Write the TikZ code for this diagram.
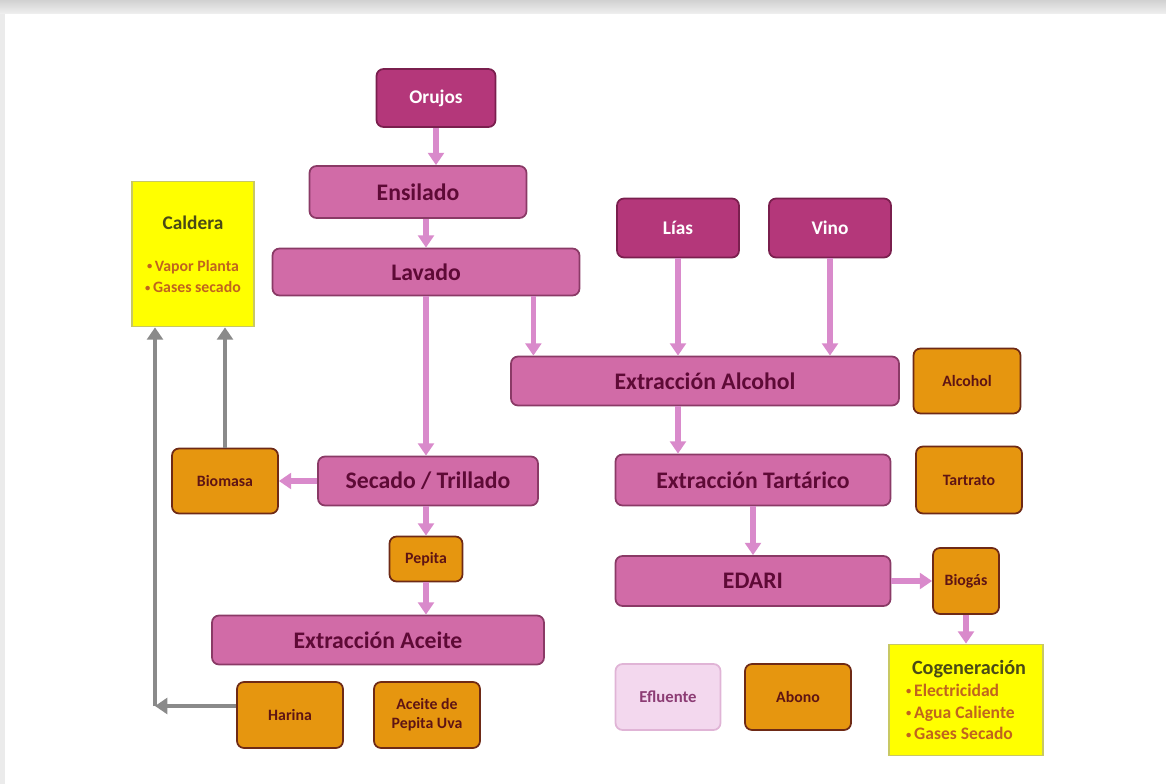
\documentclass[tikz,border=0pt]{standalone}
\usepackage{fontspec}
\setmainfont{Carlito}
\usetikzlibrary{arrows.meta,calc,positioning}

\definecolor{srcfill}{HTML}{B4377A}
\definecolor{srcline}{HTML}{7A1F4E}
\definecolor{procfill}{HTML}{D16BA7}
\definecolor{procline}{HTML}{8A3A66}
\definecolor{proctext}{HTML}{5E0A36}
\definecolor{prodfill}{HTML}{E6960F}
\definecolor{prodline}{HTML}{6E2A16}
\definecolor{prodtext}{HTML}{5E1414}
\definecolor{notefill}{HTML}{FFFF00}
\definecolor{noteline}{HTML}{C8C864}
\definecolor{notetitle}{HTML}{4A4A16}
\definecolor{notetext}{HTML}{C0641E}
\definecolor{efffill}{HTML}{F3D8EE}
\definecolor{effline}{HTML}{E0B4D6}
\definecolor{efftext}{HTML}{8C3C74}
\definecolor{flowcol}{HTML}{D98ACB}
\definecolor{backcol}{HTML}{8A8A8A}

% small bullet for the yellow notes
\newcommand{\bul}{{\fontsize{6}{6}\selectfont\raisebox{0.25ex}{•}}\,}

\begin{document}
\begin{tikzpicture}[%
    >={Triangle[width=9pt,length=7pt]},
    node distance=2cm,
    on grid,
    auto,
    box/.style={rounded corners=4pt, line width=1pt, inner sep=0pt},
    src/.style={box, draw=srcline, fill=srcfill, text=white,
      font=\bfseries\fontsize{11}{13}\selectfont},
    proc/.style={box, draw=procline, fill=procfill, text=proctext,
      font=\bfseries\fontsize{13.5}{16}\selectfont},
    prod/.style={box, draw=prodline, fill=prodfill, text=prodtext,
      font=\bfseries\fontsize{9}{11}\selectfont},
    effl/.style={box, draw=effline, fill=efffill, text=efftext,
      font=\bfseries\fontsize{9.5}{11}\selectfont},
    note/.style={draw=noteline, fill=notefill, line width=1pt, inner sep=0pt,
      text=notetext},
    flow/.style={->, draw=flowcol, line width=3pt},
    back/.style={->, draw=backcol, line width=2.2pt}
  ]
  \useasboundingbox (0,0) rectangle (23.32,-15.68);
  % frame
  \shade[top color=black!18, bottom color=black!6] (0,0) rectangle (23.32,-0.28);
  \fill[black!8] (0,-0.28) rectangle (0.1,-15.68);

  \node[src, minimum width=2.38cm, minimum height=1.16cm] (orujos) at (8.72,-1.96) {Orujos};
  \node[proc, minimum width=4.34cm, minimum height=1.04cm] (ensilado) [below=1.88cm of orujos, xshift=-0.36cm] {Ensilado};
  \node[proc, minimum width=6.14cm, minimum height=0.94cm] (lavado) [below=1.60cm of ensilado, xshift=0.16cm] {Lavado};
  \node[proc, minimum width=4.40cm, minimum height=0.98cm] (secado) [below=4.18cm of lavado, xshift=0.04cm] {Secado / Trillado};
  \node[prod, minimum width=1.46cm, minimum height=0.90cm] (pepita) [below=1.56cm of secado, xshift=-0.04cm] {Pepita};
  \node[proc, minimum width=6.64cm, minimum height=0.98cm] (aceite) [below=1.62cm of pepita, xshift=-0.96cm] {Extracción Aceite};
  \node[prod, minimum width=2.12cm, minimum height=1.32cm] (harina) [below=1.50cm of aceite, xshift=-1.76cm] {Harina};
  \node[prod, minimum width=2.12cm, minimum height=1.32cm, align=center] (pepitauva) [right=2.74cm of harina] {Aceite de\\Pepita Uva};
  \node[prod, minimum width=2.12cm, minimum height=1.30cm] (biomasa) [left=4.06cm of secado] {Biomasa};
  \node[note, minimum width=2.44cm, minimum height=2.90cm, align=center,
    font=\bfseries\fontsize{9}{12}\selectfont] (caldera) [above=4.54cm of biomasa, xshift=-0.64cm]
    {{\fontsize{11}{13}\selectfont\textcolor{notetitle}{Caldera}}\\[12pt]\bul Vapor Planta\\\bul Gases secado};

  \node[src, minimum width=2.44cm, minimum height=1.18cm] (lias) [above right=0.88cm and 5.04cm of lavado] {Lías};
  \node[src, minimum width=2.44cm, minimum height=1.18cm] (vino) [right=3.04cm of lias] {Vino};
  \node[proc, minimum width=7.76cm, minimum height=0.98cm] (extalcohol) [below=3.06cm of lias, xshift=0.54cm] {Extracción Alcohol};
  \node[prod, minimum width=2.14cm, minimum height=1.30cm] (alcohol) [right=5.24cm of extalcohol] {Alcohol};
  \node[proc, minimum width=5.50cm, minimum height=1.02cm] (tartarico) [below=1.98cm of extalcohol, xshift=0.96cm] {Extracción Tartárico};
  \node[prod, minimum width=2.12cm, minimum height=1.34cm] (tartrato) [right=4.32cm of tartarico] {Tartrato};
  \node[proc, minimum width=5.50cm, minimum height=1.00cm] (edari) [below=2.02cm of tartarico] {EDARI};
  \node[prod, minimum width=1.32cm, minimum height=1.32cm] (biogas) [right=4.26cm of edari] {Biogás};
  \node[note, minimum width=3.08cm, minimum height=2.22cm, align=left,
    font=\bfseries\fontsize{10}{12.5}\selectfont] (cogen) [below=2.38cm of biogas]
    {\hspace*{0.12cm}{\fontsize{11.5}{13}\selectfont\textcolor{notetitle}{Cogeneración}}\\\bul Electricidad\\\bul Agua Caliente\\\bul Gases Secado};
  \node[effl, minimum width=2.10cm, minimum height=1.32cm] (efluente) [below=2.32cm of edari, xshift=-1.70cm] {Efluente};
  \node[prod, minimum width=2.12cm, minimum height=1.32cm] (abono) [right=2.60cm of efluente] {Abono};

  \coordinate (lavout) at ($(lavado.south east)+(-0.94,0)$);
  \coordinate (corner) at (3.10,-14.12);

  \draw[flow] (orujos.south) -- (orujos.south |- ensilado.north);
  \draw[flow] (lavado.north |- ensilado.south) -- (lavado.north);
  \draw[flow] (lavado.south) -- (lavado.south |- secado.north);
  \draw[flow] (lavout) -- (lavout |- extalcohol.north);
  \draw[flow] (lias) -- (lias |- extalcohol.north);
  \draw[flow] (vino) -- (vino |- extalcohol.north);
  \draw[flow] (extalcohol.south -| lias) -- (tartarico.north -| lias);
  \draw[flow] (tartarico) -- (edari);
  \draw[flow] (secado) -- (biomasa);
  \draw[flow] (secado.south -| pepita) -- (pepita);
  \draw[flow] (pepita) -- (pepita |- aceite.north);
  \draw[flow] (edari) -- (biogas);
  \draw[flow] (biogas) -- (biogas |- cogen.north);

  \draw[back] (biomasa.north) -- (biomasa.north |- caldera.south);
  \draw[back] (harina.west |- corner) -- (corner);
  \draw[back] (corner) -- (corner |- caldera.south);

\end{tikzpicture}
\end{document}
